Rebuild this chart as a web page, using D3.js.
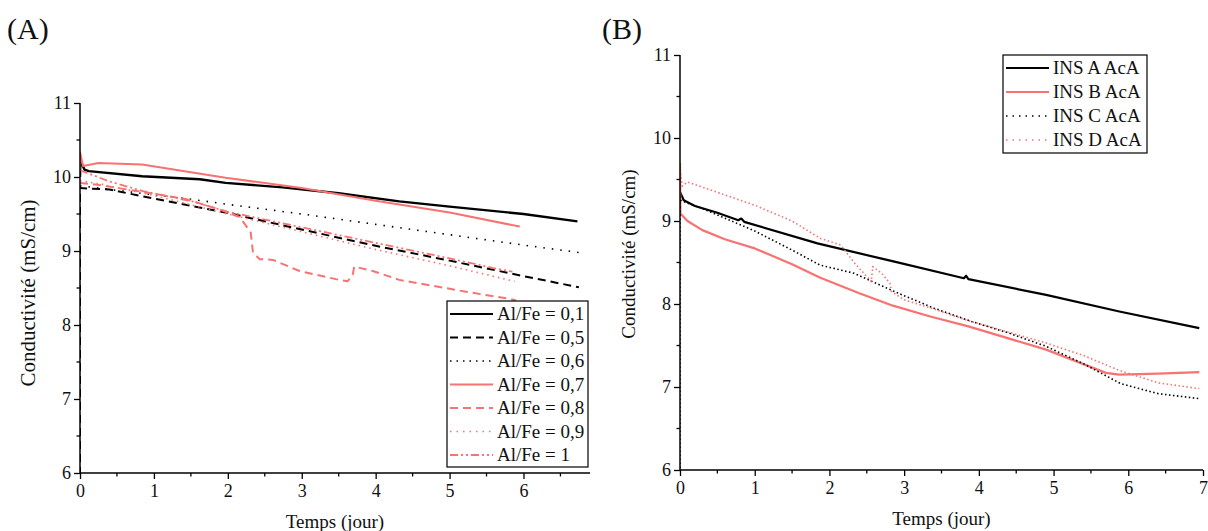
<!DOCTYPE html>
<html><head><meta charset="utf-8">
<script src="https://cdn.jsdelivr.net/npm/d3@7"></script>
<style>
body{margin:0;background:#fff;}
text{font-family:"Liberation Serif","Times New Roman",serif;fill:#111;}
</style></head>
<body><svg id="c" width="1208" height="531"></svg>
<script>
// ---- Panel A data ----
const tA01=[0,0.005,0.06,0.12,0.84,1.62,1.97,2.74,3.5,4.32,5,6,6.73];
const vA01=[10.0,10.22,10.1,10.08,10.01,9.97,9.92,9.86,9.78,9.67,9.6,9.5,9.4];
const tA05=[0,0,0.4,0.84,1.97,3,4,5,6,6.75];
const vA05=[0,9.85,9.83,9.74,9.52,9.29,9.07,8.87,8.66,8.51];
const tA06=[0,0.5,1,1.5,2,3,4,5,6,6.75];
const vA06=[9.88,9.82,9.76,9.7,9.63,9.5,9.36,9.22,9.08,8.98];
const tA07=[0,0.003,0.04,0.25,0.84,1.97,3,4,5,5.95];
const vA07=[10.1,10.33,10.15,10.19,10.17,9.99,9.85,9.68,9.52,9.33];
const tA08=[0,0.2,0.84,1.44,1.92,2.16,2.31,2.34,2.43,2.61,2.97,3.46,3.62,3.69,3.71,3.96,4.32,5.22,5.83,5.9];
const vA08=[9.92,9.9,9.8,9.7,9.55,9.46,9.25,8.98,8.89,8.88,8.73,8.62,8.59,8.68,8.79,8.73,8.61,8.45,8.35,8.33];
const tA09=[0,0.3,1,2,3,4,5,5.88];
const vA09=[9.95,9.9,9.75,9.5,9.26,9.02,8.8,8.59];
const tA10=[0,0.4,0.85,1.52,2,3,4,5,5.59,5.85];
const vA10=[10.09,9.94,9.81,9.67,9.53,9.32,9.11,8.9,8.77,8.72];
const labelsA=["Al/Fe = 0,1","Al/Fe = 0,5","Al/Fe = 0,6","Al/Fe = 0,7","Al/Fe = 0,8","Al/Fe = 0,9","Al/Fe = 1"];
// ---- Panel B data ----
const tBA=[0,0.05,0.2,0.5,0.78,0.82,0.86,1.84,2.87,3.8,3.83,3.86,4.9,5.88,6.95];
const vBA=[9.35,9.25,9.18,9.1,9.01,9.03,8.99,8.73,8.51,8.31,8.34,8.3,8.11,7.91,7.71];
const tBB=[0,0.005,0.1,0.3,0.6,1.0,1.5,1.87,2.4,2.85,3.35,3.86,4.9,5.7,5.88,6.4,6.95];
const vBB=[9.7,9.09,9.0,8.89,8.78,8.67,8.48,8.32,8.13,7.98,7.85,7.73,7.45,7.17,7.15,7.16,7.18];
const tBC=[0,0,0.3,1,1.5,1.87,2.33,2.82,3,3.4,3.9,4.4,4.9,5.4,5.9,6.4,6.95];
const vBC=[0,9.25,9.15,8.88,8.65,8.47,8.37,8.17,8.1,7.95,7.79,7.65,7.49,7.28,7.04,6.92,6.86];
const tBD=[0,0.03,0.1,1,1.5,1.88,2.15,2.33,2.56,2.58,2.7,2.81,2.83,3.0,3.36,3.86,4.4,4.9,5.4,5.88,6.4,6.95];
const vBD=[9.62,9.42,9.47,9.19,9.0,8.79,8.71,8.5,8.27,8.45,8.37,8.25,8.15,8.05,7.95,7.8,7.66,7.53,7.38,7.2,7.05,6.98];
const labelsB=["INS A AcA","INS B AcA","INS C AcA","INS D AcA"];
const xTicks=[0,1,2,3,4,5,6,7];
const yTicks=[6,7,8,9,10,11];

const RED="#f87272", BLK="#000";
const svg=d3.select("#c");
const zip=(t,v)=>t.map((d,i)=>[d,v[i]]);

function panel(o){
  const g=svg.append("g");
  const x=d3.scaleLinear().domain(o.xd).range([o.x0,o.x1]);
  const y=d3.scaleLinear().domain([6,11]).range([o.y0,o.y1]);
  const cid="clip"+o.id;
  svg.append("clipPath").attr("id",cid).append("rect")
    .attr("x",o.x0).attr("y",o.y1-20).attr("width",o.x1-o.x0+5).attr("height",o.y0-o.y1+20);
  const line=d3.line().x(d=>x(d[0])).y(d=>y(d[1]));
  const lg=g.append("g").attr("clip-path",`url(#${cid})`);
  o.series.forEach(s=>{
    lg.append("path").datum(zip(s.t,s.v)).attr("d",line).attr("fill","none")
      .attr("stroke",s.c).attr("stroke-width",s.w||1.8).attr("stroke-dasharray",s.da||null)
      .attr("stroke-linejoin","round");
  });
  const xt=xTicks.filter(d=>d<=o.xd[1]);
  const xa=g.append("g").attr("transform",`translate(0,${o.y0})`)
    .call(d3.axisBottom(x).tickValues(xt).tickSize(6).tickPadding(5).tickFormat(d3.format("d")));
  const xm=d3.range(0.5,o.xd[1],1);
  xa.selectAll(".mt").data(xm).enter().append("line").attr("x1",d=>x(d)).attr("x2",d=>x(d)).attr("y1",0).attr("y2",3.5).attr("stroke","#000");
  const ya=g.append("g").attr("transform",`translate(${o.x0},0)`)
    .call(d3.axisLeft(y).tickValues(yTicks).tickSize(6).tickPadding(3).tickFormat(d3.format("d")));
  ya.selectAll(".mt").data(d3.range(6.5,11,1)).enter().append("line").attr("x1",0).attr("x2",-3.5).attr("y1",d=>y(d)).attr("y2",d=>y(d)).attr("stroke","#000");
  [xa,ya].forEach(a=>{a.selectAll("path,line").attr("stroke","#000").attr("stroke-width",1.3);
    a.selectAll("text").style("font-size","18px").style("font-family","'Liberation Serif',serif").attr("fill","#111");
    a.select(".domain").attr("d",null);});
  xa.append("line").attr("x1",o.x0).attr("x2",o.x1).attr("stroke","#000").attr("stroke-width",1.5);
  ya.append("line").attr("y1",o.y0).attr("y2",o.y1).attr("stroke","#000").attr("stroke-width",1.5);
  g.append("text").attr("x",(o.x0+o.x1)/2).attr("y",o.y0+55).attr("text-anchor","middle").style("font-size","19px").text("Temps (jour)");
  g.append("text").attr("transform",`translate(${o.x0-o.ytx},${o.ytc}) rotate(-90)`).attr("text-anchor","middle").style("font-size",o.yts+"px").text("Conductivité (mS/cm)");
  g.append("text").attr("x",o.px).attr("y",39).style("font-size","30px").text(o.plabel);
  const L=o.leg;
  g.append("rect").attr("x",L.x).attr("y",L.y).attr("width",L.w).attr("height",L.h).attr("fill","#fff").attr("stroke","#000").attr("stroke-width",1.2);
  o.series.forEach((s,i)=>{
    const cy=L.y+L.first+i*L.step;
    g.append("line").attr("x1",L.x+3).attr("x2",L.x+46).attr("y1",cy).attr("y2",cy)
      .attr("stroke",s.c).attr("stroke-width",s.lw||s.w||1.8).attr("stroke-dasharray",s.lda||s.da||null);
    g.append("text").attr("x",L.x+50).attr("y",cy+6).style("font-size","19px").text(s.label);
  });
}

const stA=[
 {t:tA01,v:vA01,c:BLK,w:2.4,lw:2},
 {t:tA05,v:vA05,c:BLK,w:2,da:"8,5"},
 {t:tA06,v:vA06,c:BLK,w:1.6,da:"1.5,7",lda:"1.5,5"},
 {t:tA07,v:vA07,c:RED,w:2},
 {t:tA08,v:vA08,c:RED,w:2,da:"8,5"},
 {t:tA09,v:vA09,c:RED,w:1.6,da:"1.5,4",lda:"1.5,5"},
 {t:tA10,v:vA10,c:RED,w:1.8,da:"8,3,2,3,2,3"}
];
stA.forEach((s,i)=>s.label=labelsA[i]);
panel({id:"A",xd:[0,6.9],x0:80,x1:590,y0:473,y1:103,series:stA,plabel:"(A)",px:7,ytx:45,ytc:293,yts:21,
  leg:{x:447,y:301,w:141,h:166,first:13,step:23.5}});

const stB=[
 {t:tBA,v:vBA,c:BLK,w:2.2,lw:2},
 {t:tBB,v:vBB,c:RED,w:2.2,lw:2},
 {t:tBC,v:vBC,c:BLK,w:1.6,da:"1.5,2.5",lda:"1.5,5"},
 {t:tBD,v:vBD,c:RED,w:1.6,da:"1.5,2.5",lda:"1.5,5"}
];
stB.forEach((s,i)=>s.label=labelsB[i]);
panel({id:"B",xd:[0,7],x0:680,x1:1203,y0:470,y1:55,series:stB,plabel:"(B)",px:602,ytx:45,ytc:254,yts:19,
  leg:{x:1003,y:55,w:144,h:98,first:13,step:24}});
</script></body></html>
